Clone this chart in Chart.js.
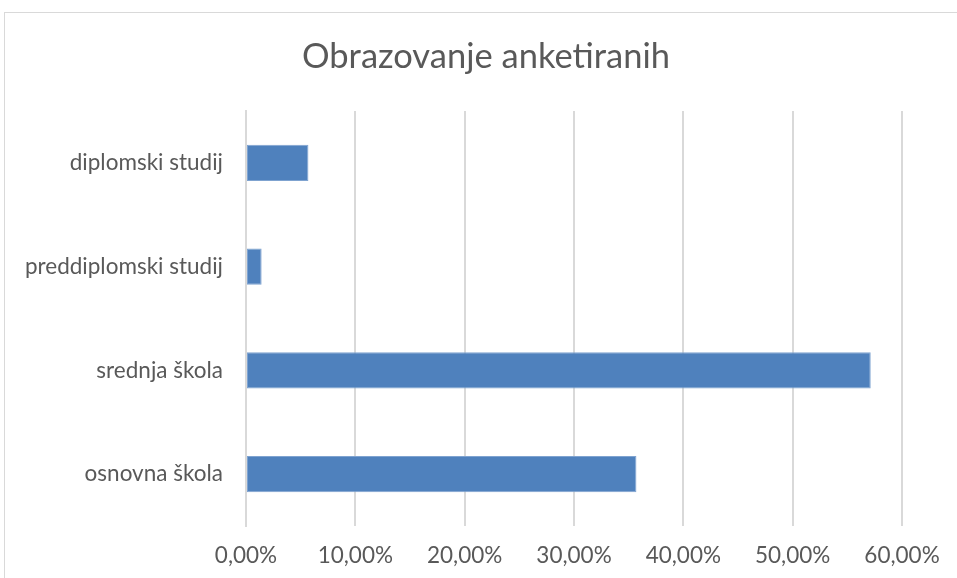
<!DOCTYPE html>
<html><head><meta charset="utf-8">
<script src="https://cdn.jsdelivr.net/npm/chart.js@4/dist/chart.umd.min.js"></script>
<style>
html,body{margin:0;padding:0;background:#fff;width:957px;height:578px;overflow:hidden}
#frame{position:absolute;left:4px;top:12px;width:1000px;height:700px;border:1px solid #d9d9d9;box-sizing:border-box}
#wrap{position:absolute;left:0;top:0;width:957px;height:578px}
</style></head><body>
<div id="frame"></div>
<div id="wrap"><canvas id="c" width="957" height="578"></canvas></div>
<script>
const chartTitle = "Obrazovanje anketiranih";
const categories = ["diplomski studij", "preddiplomski studij", "srednja škola", "osnovna škola"];
const values = [0.0571, 0.0143, 0.5714, 0.3571];
const tickValues = [0, 0.1, 0.2, 0.3, 0.4, 0.5, 0.6];

const FONT = "Lato, 'Open Sans', sans-serif";

// centre the title over the whole frame rather than between the paddings
const titleSpan = {
  id: 'titleSpan',
  afterLayout(chart) {
    const t = chart.titleBlock;
    if (t) { t.left = 15; t.right = chart.width; }
  }
};

new Chart(document.getElementById('c'), {
  type: 'bar',
  data: {
    labels: categories,
    datasets: [{
      data: values,
      backgroundColor: '#4f81bd',
      borderColor: '#7fa3d0',
      borderWidth: 1,
      borderSkipped: false,
      barPercentage: 0.35,
      categoryPercentage: 1
    }]
  },
  plugins: [titleSpan],
  options: {
    indexAxis: 'y',
    responsive: false,
    animation: false,
    layout: { padding: { left: 15, right: 55, top: 36, bottom: 0 } },
    plugins: {
      legend: { display: false },
      tooltip: { enabled: false },
      title: {
        display: true, text: chartTitle, color: '#595959',
        font: { family: FONT, size: 34.5, weight: 'normal' },
        padding: { top: 0, bottom: 33.6 }
      }
    },
    scales: {
      x: {
        min: 0, max: 0.6,
        afterBuildTicks: s => { s.ticks = tickValues.map(v => ({ value: v })); },
        afterFit: s => { s.height = 52; },
        ticks: {
          color: '#595959', font: { family: FONT, size: 22.5 }, padding: 16,
          callback: v => (v * 100).toFixed(2).replace('.', ',') + '%'
        },
        grid: { color: '#d9d9d9', lineWidth: 2, drawTicks: false },
        border: { display: false }
      },
      y: {
        afterFit: s => { s.width = 231; },
        ticks: { color: '#595959', font: { family: FONT, size: 22.5 }, padding: 23 },
        grid: { display: false, drawTicks: false },
        border: { display: true, color: '#d9d9d9', width: 2 }
      }
    }
  }
});
</script>
</body></html>
